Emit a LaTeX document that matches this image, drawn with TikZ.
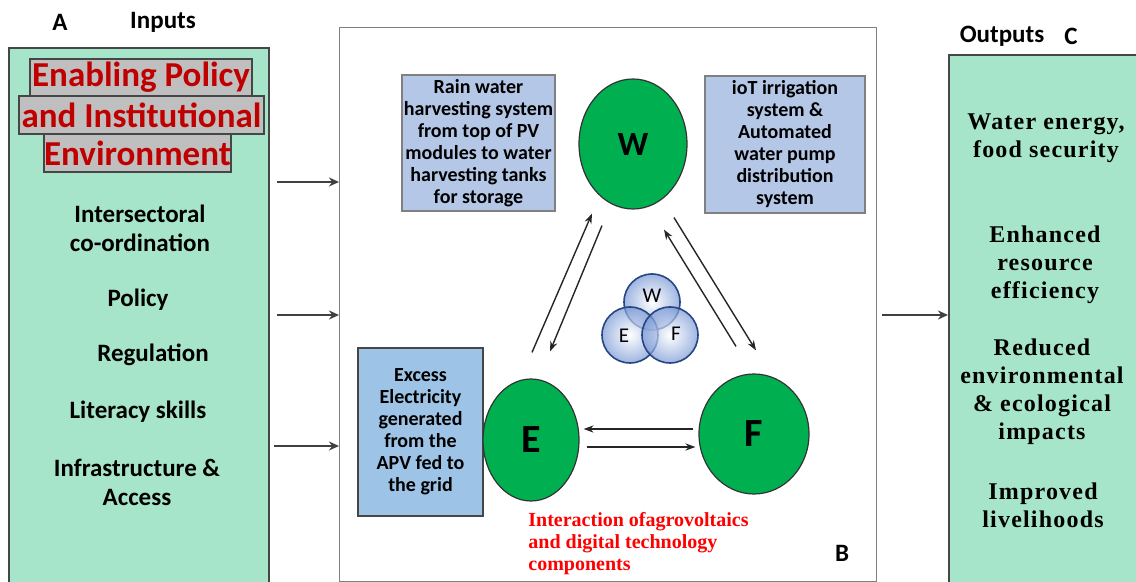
\documentclass[tikz,border=0pt]{standalone}
\usepackage{fontspec}
\setmainfont{Carlito}
\newfontfamily\timesfont[LetterSpace=5]{Liberation Serif}
\newfontfamily\serifplain{Liberation Serif}
\usepackage{tikz}
\usetikzlibrary{shapes.geometric,arrows.meta}
\definecolor{mint}{RGB}{166,229,201}
\definecolor{titlegray}{RGB}{191,191,191}
\definecolor{darkred}{RGB}{192,0,0}
\definecolor{paleblue}{RGB}{180,199,231}
\definecolor{skyblue}{RGB}{157,195,230}
\definecolor{nexusgreen}{RGB}{0,176,80}
\definecolor{vennblue}{RGB}{118,150,212}
\definecolor{venndark}{RGB}{40,70,130}
\definecolor{edgegray}{RGB}{70,70,70}
\tikzstyle{panel} = [draw=edgegray, line width=0.8pt, rectangle, inner sep=0]
\tikzstyle{titlebox} = [draw=edgegray, fill=titlegray, line width=0.8pt, inner sep=0,
    text=darkred, font=\fontsize{17.5}{19}\selectfont\bfseries]
\tikzstyle{tag} = [font=\fontsize{12.5}{14.5}\selectfont\bfseries]
\tikzstyle{intext} = [align=center, font=\fontsize{12.5}{14.5}\selectfont\bfseries]
\tikzstyle{outtext} = [align=center, font=\fontsize{12}{14}\selectfont\timesfont\bfseries]
\tikzstyle{techbox} = [draw=gray, line width=0.6pt, fill=paleblue, rectangle, inner sep=0,
    align=center, font=\fontsize{10}{11}\selectfont\bfseries]
\tikzstyle{nexus} = [draw=black!80, line width=0.6pt, fill=nexusgreen, ellipse, inner sep=0]
\tikzstyle{venn} = [draw=venndark, line width=0.8pt, circle, minimum size=28pt, inner sep=0,
    inner color=white, outer color=vennblue, fill opacity=0.7]
\tikzstyle{flow} = [-{Stealth[length=5pt,width=4.5pt]}, draw=black!75, line width=1.4pt]
\tikzstyle{link} = [-{Stealth[length=5pt,width=3.6pt]}, draw=black!85, line width=0.7pt]

\begin{document}
\begin{tikzpicture}[x=0.5pt, y=-0.5pt]
\useasboundingbox (0,0) rectangle (1136,582);
% panels A, B, C
\node [panel, fill=mint, minimum width=130pt, minimum height=268.5pt, anchor=north west] (inbox) at (8,47) {};
\node [panel, draw=gray, line width=0.6pt, minimum width=268.5pt, minimum height=277pt, anchor=north west] (mid) at (339,27) {};
\node [panel, fill=mint, minimum width=95pt, minimum height=265pt, anchor=north west] (outbox) at (948,54) {};

\node [tag] (tagA) at (60,22) {A};
\node [tag] (inputs) at (163,22) {Inputs};
\node [tag] (outputs) at (1002,36) {Outputs};
\node [tag] (tagC) at (1071,36) {C};
\node [tag] (tagB) at (842,553) {B};

% inputs
\node [titlebox, minimum width=111pt, minimum height=18.5pt] (title1) at (141,77.5) {Enabling Policy};
\node [titlebox, minimum width=122.5pt, minimum height=19pt] (title2) at (141.5,115) {and Institutional};
\node [titlebox, minimum width=92.5pt, minimum height=19pt] (title3) at (137.5,153) {Environment};
\node [intext] (coord) at (140,228) {Intersectoral\\co-ordination};
\node [intext] (policy) at (138,300) {Policy};
\node [intext] (regul) at (153,355) {Regulation};
\node [intext] (literacy) at (138,412) {Literacy skills};
\node [intext] (infra) at (137,482) {Infrastructure \&\\Access};

% outputs
\node [outtext] (security) at (1046,138) {Water energy,\\food security};
\node [outtext] (efficiency) at (1045,265) {Enhanced\\resource\\efficiency};
\node [outtext] (impacts) at (1042,392) {Reduced\\environmental\\\& ecological\\impacts};
\node [outtext] (livelihood) at (1043,505) {Improved\\livelihoods};

% arrows between the panels
\coordinate (in1) at (277,182);
\coordinate (in2) at (277,315);
\coordinate (in3) at (274,446);
\coordinate (out1) at (882,315);
\draw [flow] (in1) -- (in1 -| mid.west);
\draw [flow] (in2) -- (in2 -| mid.west);
\draw [flow] (in3) -- (in3 -| mid.west);
\draw [flow] (out1) -- (out1 -| outbox.west);

% water energy food nexus
\node [techbox, minimum width=76.5pt, minimum height=68pt] (rain) at (478.5,143) {Rain water\\harvesting system\\from top of PV\\modules to water\\harvesting tanks\\for storage};
\node [techbox, minimum width=80pt, minimum height=68.5pt] (iot) at (785,144.5) {ioT irrigation\\system \&\\Automated\\water pump\\distribution\\system};
\node [techbox, fill=skyblue, draw=edgegray, line width=0.8pt, minimum width=62.5pt, minimum height=84pt] (excess) at (420.5,432) {Excess\\Electricity\\generated\\from the\\APV fed to\\the grid};

\node [nexus, minimum width=54pt, minimum height=65pt, font=\fontsize{17}{19}\selectfont\bfseries] (W) at (633,144) {W};
\node [nexus, minimum width=48pt, minimum height=61pt, font=\fontsize{20}{22}\selectfont\bfseries] (E) at (531,440) {E};
\node [nexus, minimum width=55pt, minimum height=60pt, font=\fontsize{20}{22}\selectfont\bfseries] (F) at (754,434) {F};

\draw [link] ([shift={(1,-26)}]E.north) -- ([shift={(-41,4)}]W.south);
\draw [link] ([shift={(-31,16)}]W.south) -- ([shift={(19,-27)}]E.north);
\draw [link] ([shift={(-18,-27)}]F.north) -- ([shift={(31,20)}]W.south);
\draw [link] ([shift={(41,8)}]W.south) -- ([shift={(2,-23)}]F.north);
\draw [link] ([shift={(-5,-5)}]F.west) -- ([shift={(4,-11)}]E.east);
\draw [link] ([shift={(7,7)}]E.east) -- ([shift={(-3,13)}]F.west);

% small venn in the middle
\node [venn] (vW) at (652,302) {};
\node [venn] (vE) at (630,335) {};
\node [venn] (vF) at (670,335) {};
\node [font=\fontsize{10.5}{12}\selectfont] (lW) at (652,296) {W};
\node [font=\fontsize{10.5}{12}\selectfont] (lE) at (624,336) {E};
\node [font=\fontsize{10.5}{12}\selectfont] (lF) at (676,334) {F};

\node [anchor=west, align=left, inner sep=0, text=red, font=\fontsize{10}{11}\selectfont\serifplain\bfseries] (caption) at (528,544) {Interaction ofagrovoltaics\\and digital technology\\components};
\end{tikzpicture}
\end{document}
